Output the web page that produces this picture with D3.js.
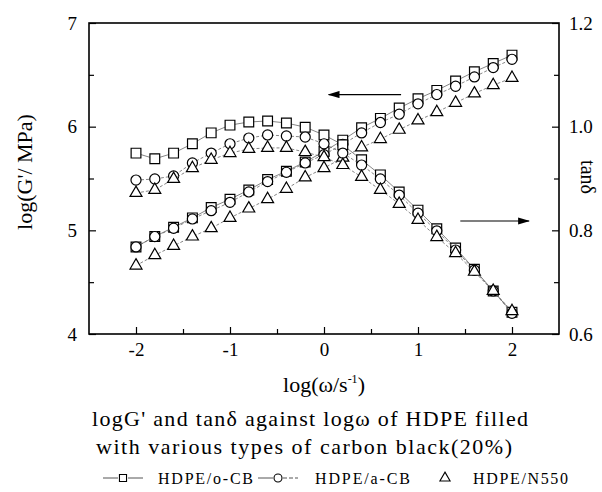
<!DOCTYPE html>
<html>
<head>
<meta charset="utf-8">
<script src="https://cdn.jsdelivr.net/npm/d3@7"></script>
<style>
  body { margin: 0; background: #fff; }
  svg text { font-family: "Liberation Serif", "Times New Roman", serif; fill: #000; }
</style>
</head>
<body>
<div id="chart"></div>
<script>
// log(omega) values, step 0.2
var logW = [-2, -1.8, -1.6, -1.4, -1.2, -1, -0.8, -0.6, -0.4, -0.2, 0,
            0.2, 0.4, 0.6, 0.8, 1, 1.2, 1.4, 1.6, 1.8, 2];

// log G' (left axis)
var gOCB  = [4.84, 4.94, 5.03, 5.12, 5.22, 5.30, 5.39, 5.49, 5.57, 5.66, 5.76,
             5.87, 5.99, 6.08, 6.18, 6.27, 6.35, 6.44, 6.53, 6.61, 6.69];
var gACB  = [4.84, 4.94, 5.02, 5.11, 5.19, 5.27, 5.37, 5.47, 5.56, 5.65, 5.73,
             5.83, 5.94, 6.04, 6.12, 6.22, 6.31, 6.39, 6.48, 6.57, 6.65];
var gN550 = [4.66, 4.76, 4.85, 4.94, 5.02, 5.12, 5.21, 5.30, 5.40, 5.51, 5.60,
             5.70, 5.80, 5.88, 5.97, 6.06, 6.14, 6.23, 6.32, 6.40, 6.47];

// tan delta (right axis)
var tOCB  = [0.949, 0.938, 0.949, 0.967, 0.988, 1.003, 1.009, 1.011, 1.007, 0.999, 0.984,
             0.965, 0.936, 0.907, 0.874, 0.839, 0.803, 0.766, 0.725, 0.683, 0.642];
var tACB  = [0.897, 0.899, 0.905, 0.930, 0.949, 0.967, 0.978, 0.984, 0.982, 0.980, 0.967,
             0.949, 0.926, 0.899, 0.868, 0.833, 0.799, 0.762, 0.723, 0.683, 0.640];
var tN550 = [0.872, 0.878, 0.899, 0.920, 0.936, 0.949, 0.957, 0.959, 0.959, 0.951, 0.941,
             0.926, 0.903, 0.878, 0.851, 0.820, 0.787, 0.756, 0.720, 0.683, 0.644];

var leftTicks = [4, 5, 6, 7];
var rightTicks = [0.6, 0.8, 1.0, 1.2];
var xTicks = [-2, -1, 0, 1, 2];

var margin = { top: 23, right: 43, bottom: 158, left: 89 },
    W = 602, H = 492,
    width = W - margin.left - margin.right,
    height = H - margin.top - margin.bottom;

var svg = d3.select("#chart").append("svg")
    .attr("width", W)
    .attr("height", H);

var g = svg.append("g")
    .attr("transform", "translate(" + margin.left + "," + margin.top + ")");

var x = d3.scaleLinear().domain([-2.5, 2.5]).range([0, width]);
var yL = d3.scaleLinear().domain([4, 7]).range([height, 0]);
var yR = d3.scaleLinear().domain([0.6, 1.2]).range([height, 0]);

// axes, ticks pointing inward
function styleAxis(sel) {
    sel.select(".domain").remove();
    sel.selectAll(".tick line").attr("stroke", "#000").attr("stroke-width", 1.2);
    sel.selectAll("text").style("font-size", "19px")
        .style("font-family", "'Liberation Serif', 'Times New Roman', serif");
}

g.append("g")
    .call(d3.axisLeft(yL).tickValues(leftTicks).tickFormat(d3.format("d")).tickSize(-7).tickPadding(12))
    .call(styleAxis);
g.append("g")
    .call(d3.axisLeft(yL).tickValues([4.5, 5.5, 6.5]).tickFormat("").tickSize(-5))
    .call(styleAxis);

g.append("g")
    .attr("transform", "translate(" + width + ",0)")
    .call(d3.axisRight(yR).tickValues(rightTicks).tickFormat(d3.format(".1f")).tickSize(-7).tickPadding(10))
    .call(styleAxis);
g.append("g")
    .attr("transform", "translate(" + width + ",0)")
    .call(d3.axisRight(yR).tickValues([0.7, 0.9, 1.1]).tickFormat("").tickSize(-5))
    .call(styleAxis);

g.append("g")
    .attr("transform", "translate(0," + height + ")")
    .call(d3.axisBottom(x).tickValues(xTicks).tickFormat(d3.format("d")).tickSize(-7).tickPadding(9))
    .call(styleAxis);
g.append("g")
    .attr("transform", "translate(0," + height + ")")
    .call(d3.axisBottom(x).tickValues([-1.5, -0.5, 0.5, 1.5]).tickFormat("").tickSize(-5))
    .call(styleAxis);

// plain hyphen instead of the unicode minus
g.selectAll(".tick text").text(function () { return d3.select(this).text().replace("\u2212", "-"); });

g.append("rect")
    .attr("width", width)
    .attr("height", height)
    .attr("fill", "none")
    .attr("stroke", "#000")
    .attr("stroke-width", 1.6);

var series = [
    { v: gOCB,  y: yL, shape: "square" },
    { v: gACB,  y: yL, shape: "circle" },
    { v: gN550, y: yL, shape: "triangle" },
    { v: tOCB,  y: yR, shape: "square" },
    { v: tACB,  y: yR, shape: "circle" },
    { v: tN550, y: yR, shape: "triangle" }
];

var symbolType = { square: d3.symbolSquare, circle: d3.symbolCircle, triangle: d3.symbolTriangle };
var symbolSize = { square: 95, circle: 80, triangle: 62 };

series.forEach(function (s) {
    var pts = logW.map(function (w, i) { return [w, s.v[i]]; });
    var line = d3.line()
        .x(function (d) { return x(d[0]); })
        .y(function (d) { return s.y(d[1]); });

    g.append("path")
        .datum(pts)
        .attr("d", line)
        .attr("fill", "none")
        .attr("stroke", "#666")
        .attr("stroke-width", 0.8)
        .attr("stroke-dasharray", s.shape == "square" ? null : "3,2");

    g.selectAll(null)
        .data(pts)
        .enter().append("path")
        .attr("transform", function (d) { return "translate(" + x(d[0]) + "," + s.y(d[1]) + ")"; })
        .attr("d", d3.symbol().type(symbolType[s.shape]).size(symbolSize[s.shape]))
        .attr("fill", "#fff")
        .attr("stroke", "#000")
        .attr("stroke-width", 1.2);
});

// arrows pointing to the axis each group belongs to
svg.append("defs").append("marker")
    .attr("id", "head")
    .attr("viewBox", "0 0 10 6")
    .attr("refX", 9).attr("refY", 3)
    .attr("markerWidth", 10).attr("markerHeight", 6)
    .attr("orient", "auto")
    .append("path")
    .attr("d", "M0,0L10,3L0,6Z")
    .attr("fill", "#000");

g.append("line")
    .attr("x1", x(0.82)).attr("x2", x(0.05))
    .attr("y1", yL(6.31)).attr("y2", yL(6.31))
    .attr("stroke", "#000").attr("stroke-width", 1.2)
    .attr("marker-end", "url(#head)");

g.append("line")
    .attr("x1", x(1.45)).attr("x2", x(2.18))
    .attr("y1", yR(0.818)).attr("y2", yR(0.818))
    .attr("stroke", "#000").attr("stroke-width", 1.2)
    .attr("marker-end", "url(#head)");

// axis titles
svg.append("text")
    .attr("text-anchor", "middle")
    .attr("transform", "translate(32," + 172 + ") rotate(-90)")
    .style("font-size", "22px")
    .text("log(G'/ MPa)");

svg.append("text")
    .attr("text-anchor", "middle")
    .attr("transform", "translate(581," + 177 + ") rotate(90)")
    .style("font-size", "20px")
    .text("tanδ");

var xl = svg.append("text")
    .attr("text-anchor", "middle")
    .attr("x", margin.left + x(0))
    .attr("y", 392)
    .style("font-size", "22px");
xl.append("tspan").text("log(ω/s");
xl.append("tspan").attr("dy", -9).style("font-size", "12px").text("-1");
xl.append("tspan").attr("dy", 9).text(")");

// caption
svg.append("text")
    .attr("x", 92).attr("y", 426)
    .attr("textLength", 436)
    .attr("lengthAdjust", "spacing")
    .style("font-size", "22px")
    .text("logG' and tanδ against logω of HDPE filled");
svg.append("text")
    .attr("x", 96).attr("y", 454)
    .attr("textLength", 416)
    .attr("lengthAdjust", "spacing")
    .style("font-size", "22px")
    .text("with various types of carbon black(20%)");

// legend
var legend = [
    { name: "HDPE/o-CB", shape: "square", x: 103, dash: false, tx: 158 },
    { name: "HDPE/a-CB", shape: "circle", x: 258, dash: true, tx: 315 },
    { name: "HDPE/N550", shape: "triangle", x: 425, dash: null, tx: 473 }
];
var ly = 478;
legend.forEach(function (l) {
    if (l.dash !== null) {
        svg.append("line")
            .attr("x1", l.x).attr("x2", l.x + 15).attr("y1", ly).attr("y2", ly)
            .attr("stroke", "#555").attr("stroke-width", 1);
        svg.append("line")
            .attr("x1", l.x + 25).attr("x2", l.x + 40).attr("y1", ly).attr("y2", ly)
            .attr("stroke", "#555").attr("stroke-width", 1)
            .attr("stroke-dasharray", l.dash ? "4,2" : null);
    }
    svg.append("path")
        .attr("transform", "translate(" + (l.x + 20) + "," + ly + ")")
        .attr("d", d3.symbol().type(symbolType[l.shape]).size(l.shape == "triangle" ? 45 : 50))
        .attr("fill", "#fff")
        .attr("stroke", "#000")
        .attr("stroke-width", 1.1);
    svg.append("text")
        .attr("x", l.tx)
        .attr("y", ly + 6)
        .attr("textLength", 95)
        .attr("lengthAdjust", "spacing")
        .style("font-size", "16px")
        .text(l.name);
});
</script>
</body>
</html>
